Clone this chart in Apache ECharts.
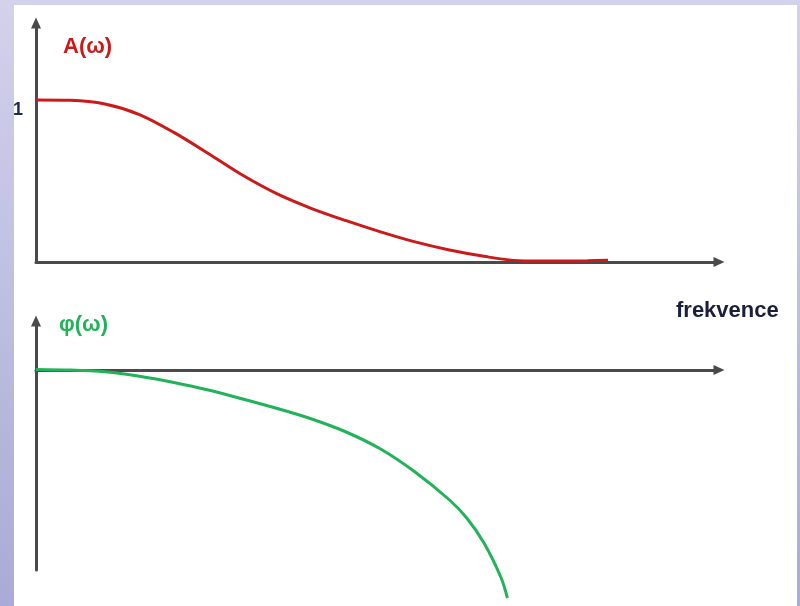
<!DOCTYPE html>
<html>
<head>
<meta charset="utf-8">
<script src="https://cdn.jsdelivr.net/npm/echarts@6/dist/echarts.min.js"></script>
<style>
  html, body { margin: 0; padding: 0; }
  #chart { width: 800px; height: 606px; }
</style>
</head>
<body>
<div id="chart"></div>
<script>
// Frequency axis positions (arbitrary units)
const freq = [0, 0.5, 1, 1.5, 2, 2.5, 3, 3.5, 4, 4.5, 5, 5.5, 6, 6.5, 7, 7.5, 8, 8.3];
// Amplitude response A(ω), normalised so that A(0) = 1
const amplitude = [1.0, 0.998, 0.975, 0.91, 0.80, 0.67, 0.535, 0.42, 0.33, 0.255, 0.186, 0.124, 0.074, 0.035, 0.008, 0.006, 0.008, 0.011];

// Phase response φ(ω)
const phaseFreq = [0, 0.5, 1, 1.5, 2, 2.5, 3, 3.5, 4, 4.5, 5, 5.5, 6, 6.25, 6.5, 6.75, 6.84];
const phase = [0.006, 0.0, -0.018, -0.062, -0.125, -0.2, -0.29, -0.385, -0.49, -0.62, -0.79, -1.02, -1.30, -1.48, -1.73, -2.08, -2.28];

const yTickLabels = ['1'];

const pairs = (xs, ys) => xs.map((x, i) => [x, ys[i]]);

const axisLineStyle = {
  show: true,
  onZero: true,
  symbol: ['none', 'triangle'],
  symbolSize: [10, 11],
  lineStyle: { color: '#4a4a4a', width: 3 }
};

const font = 'Liberation Sans, Arial, sans-serif';

const chart = echarts.init(document.getElementById('chart'));
chart.setOption({
  animation: false,
  backgroundColor: {
    type: 'linear', x: 0, y: 0, x2: 0, y2: 1,
    colorStops: [
      { offset: 0, color: '#d2d2ea' },
      { offset: 1, color: '#aaaad6' }
    ]
  },
  graphic: [
    {
      type: 'rect', z: -10, silent: true,
      shape: { x: 14, y: 5, width: 783, height: 601 },
      style: { fill: '#ffffff' }
    }
  ],
  title: [
    {
      text: 'A(ω)', left: 58, top: 31,
      textStyle: { color: '#cc1a1a', fontSize: 22, fontWeight: 'bold', fontFamily: font }
    },
    {
      text: 'φ(ω)', left: 54, top: 309,
      textStyle: { color: '#22b35a', fontSize: 22, fontWeight: 'bold', fontFamily: font }
    },
    {
      text: 'frekvence', left: 671, top: 295,
      textStyle: { color: '#1b1f3a', fontSize: 22, fontWeight: 'bold', fontFamily: font }
    }
  ],
  grid: [
    { left: 36, top: 23, width: 683, height: 239 },
    { left: 36, top: 321, width: 683, height: 249 }
  ],
  xAxis: [
    {
      type: 'value', gridIndex: 0, min: 0, max: 9.91,
      axisLine: axisLineStyle, axisTick: { show: false },
      axisLabel: { show: false }, splitLine: { show: false }
    },
    {
      type: 'value', gridIndex: 1, min: 0, max: 9.91,
      axisLine: axisLineStyle, axisTick: { show: false },
      axisLabel: { show: false }, splitLine: { show: false }
    }
  ],
  yAxis: [
    {
      type: 'value', gridIndex: 0, min: 0, max: 1.475, interval: 1,
      axisLine: axisLineStyle, axisTick: { show: false },
      splitLine: { show: false },
      axisLabel: {
        show: true, margin: 13,
        color: '#1b2b55', fontSize: 18, fontWeight: 'bold', fontFamily: font,
        verticalAlign: 'top', padding: [1, 0, 0, 0],
        formatter: v => (yTickLabels.includes(String(v)) ? String(v) : '')
      }
    },
    {
      type: 'value', gridIndex: 1, min: -2.0, max: 0.49,
      axisLine: axisLineStyle, axisTick: { show: false },
      axisLabel: { show: false }, splitLine: { show: false }
    }
  ],
  series: [
    {
      type: 'line', xAxisIndex: 0, yAxisIndex: 0,
      data: pairs(freq, amplitude),
      smooth: 0.3, showSymbol: false, clip: false,
      lineStyle: { color: '#cc1a1a', width: 3 }
    },
    {
      type: 'line', xAxisIndex: 1, yAxisIndex: 1,
      data: pairs(phaseFreq, phase),
      smooth: 0.3, showSymbol: false, clip: false,
      lineStyle: { color: '#22b35a', width: 3 }
    }
  ]
});
</script>
</body>
</html>
